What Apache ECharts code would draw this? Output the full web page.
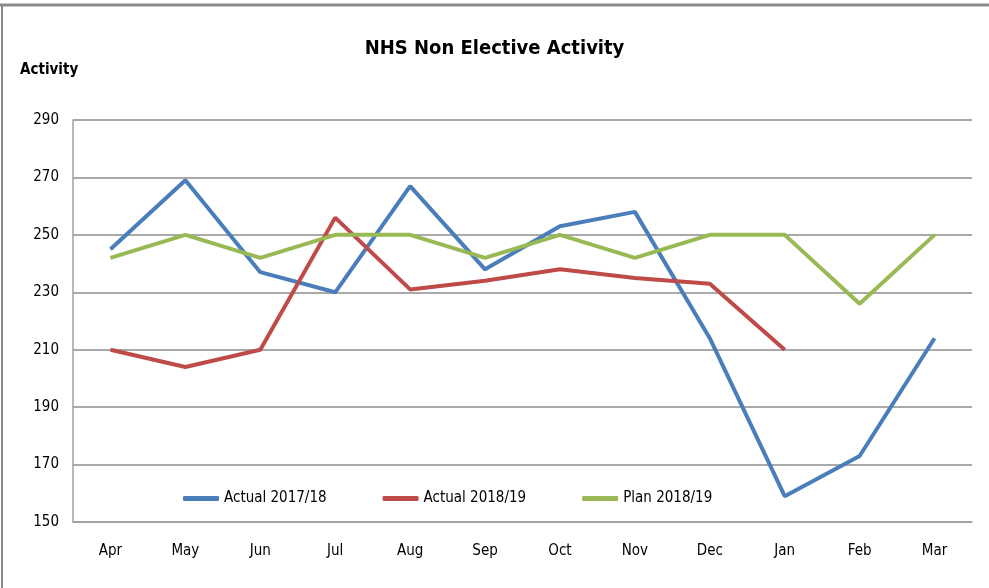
<!DOCTYPE html>
<html>
<head>
<meta charset="utf-8">
<script src="https://cdn.jsdelivr.net/npm/echarts@6/dist/echarts.min.js"></script>
<style>
html,body{margin:0;padding:0;background:#fff;}
#chart{width:989px;height:588px;}
</style>
</head>
<body>
<div id="chart"></div>
<script>
const months = ['Apr','May','Jun','Jul','Aug','Sep','Oct','Nov','Dec','Jan','Feb','Mar'];
const actual1718 = [245, 269, 237, 230, 267, 238, 253, 258, 214, 159, 173, 214];
const actual1819 = [210, 204, 210, 256, 231, 234, 238, 235, 233, 210, null, null];
const plan1819 = [242, 250, 242, 250, 250, 242, 250, 242, 250, 250, 226, 250];
const yTicks = {min: 150, max: 290, interval: 20};

const FONT = '"DejaVu Sans Condensed", "Liberation Sans Narrow", sans-serif';
const chart = echarts.init(document.getElementById('chart'), null, {renderer: 'canvas'});
const mkSeries = (name, data, color) => ({
  name, type: 'line', data, symbol: 'none', smooth: false,
  lineStyle: {width: 4, color}, itemStyle: {color}, connectNulls: false
});
chart.setOption({
  animation: false,
  backgroundColor: '#fff',
  title: {
    text: 'NHS Non Elective Activity',
    left: 'center', top: 34,
    textStyle: {fontFamily: FONT, fontWeight: 'bold', fontSize: 20, color: '#000'}
  },
  legend: {
    left: 178, top: 486,
    itemWidth: 36, itemHeight: 5, itemGap: 56,
    icon: 'roundRect',
    textStyle: {fontFamily: FONT, fontSize: 15, color: '#000'},
    data: ['Actual 2017/18', 'Actual 2018/19', 'Plan 2018/19']
  },
  grid: {left: 73, right: 17, top: 120, bottom: 66, containLabel: false},
  xAxis: {
    type: 'category', data: months, boundaryGap: true,
    axisTick: {show: false},
    axisLine: {lineStyle: {color: '#a0a0a0', width: 1.5}},
    axisLabel: {fontFamily: FONT, fontSize: 15, color: '#000', margin: 22}
  },
  yAxis: {
    type: 'value', min: yTicks.min, max: yTicks.max, interval: yTicks.interval,
    name: 'Activity', nameLocation: 'end', nameGap: 0,
    nameTextStyle: {fontFamily: FONT, fontWeight: 'bold', fontSize: 15, color: '#000', align: 'left', padding: [0, 0, 42, -53]},
    axisTick: {show: false},
    axisLine: {show: true, lineStyle: {color: '#a0a0a0', width: 1.5}},
    axisLabel: {fontFamily: FONT, fontSize: 15, color: '#000', margin: 14},
    splitLine: {lineStyle: {color: '#8c8c8c', width: 1.5}}
  },
  graphic: [
    {type: 'line', shape: {x1: 0, y1: 5, x2: 989, y2: 5}, style: {stroke: '#8a8a8a', lineWidth: 3}, silent: true},
    {type: 'line', shape: {x1: 2, y1: 5, x2: 2, y2: 588}, style: {stroke: '#8a8a8a', lineWidth: 2}, silent: true}
  ],
  series: [
    mkSeries('Actual 2017/18', actual1718, '#4a7ebb'),
    mkSeries('Actual 2018/19', actual1819, '#be4b48'),
    mkSeries('Plan 2018/19', plan1819, '#98b954')
  ]
});
</script>
</body>
</html>
